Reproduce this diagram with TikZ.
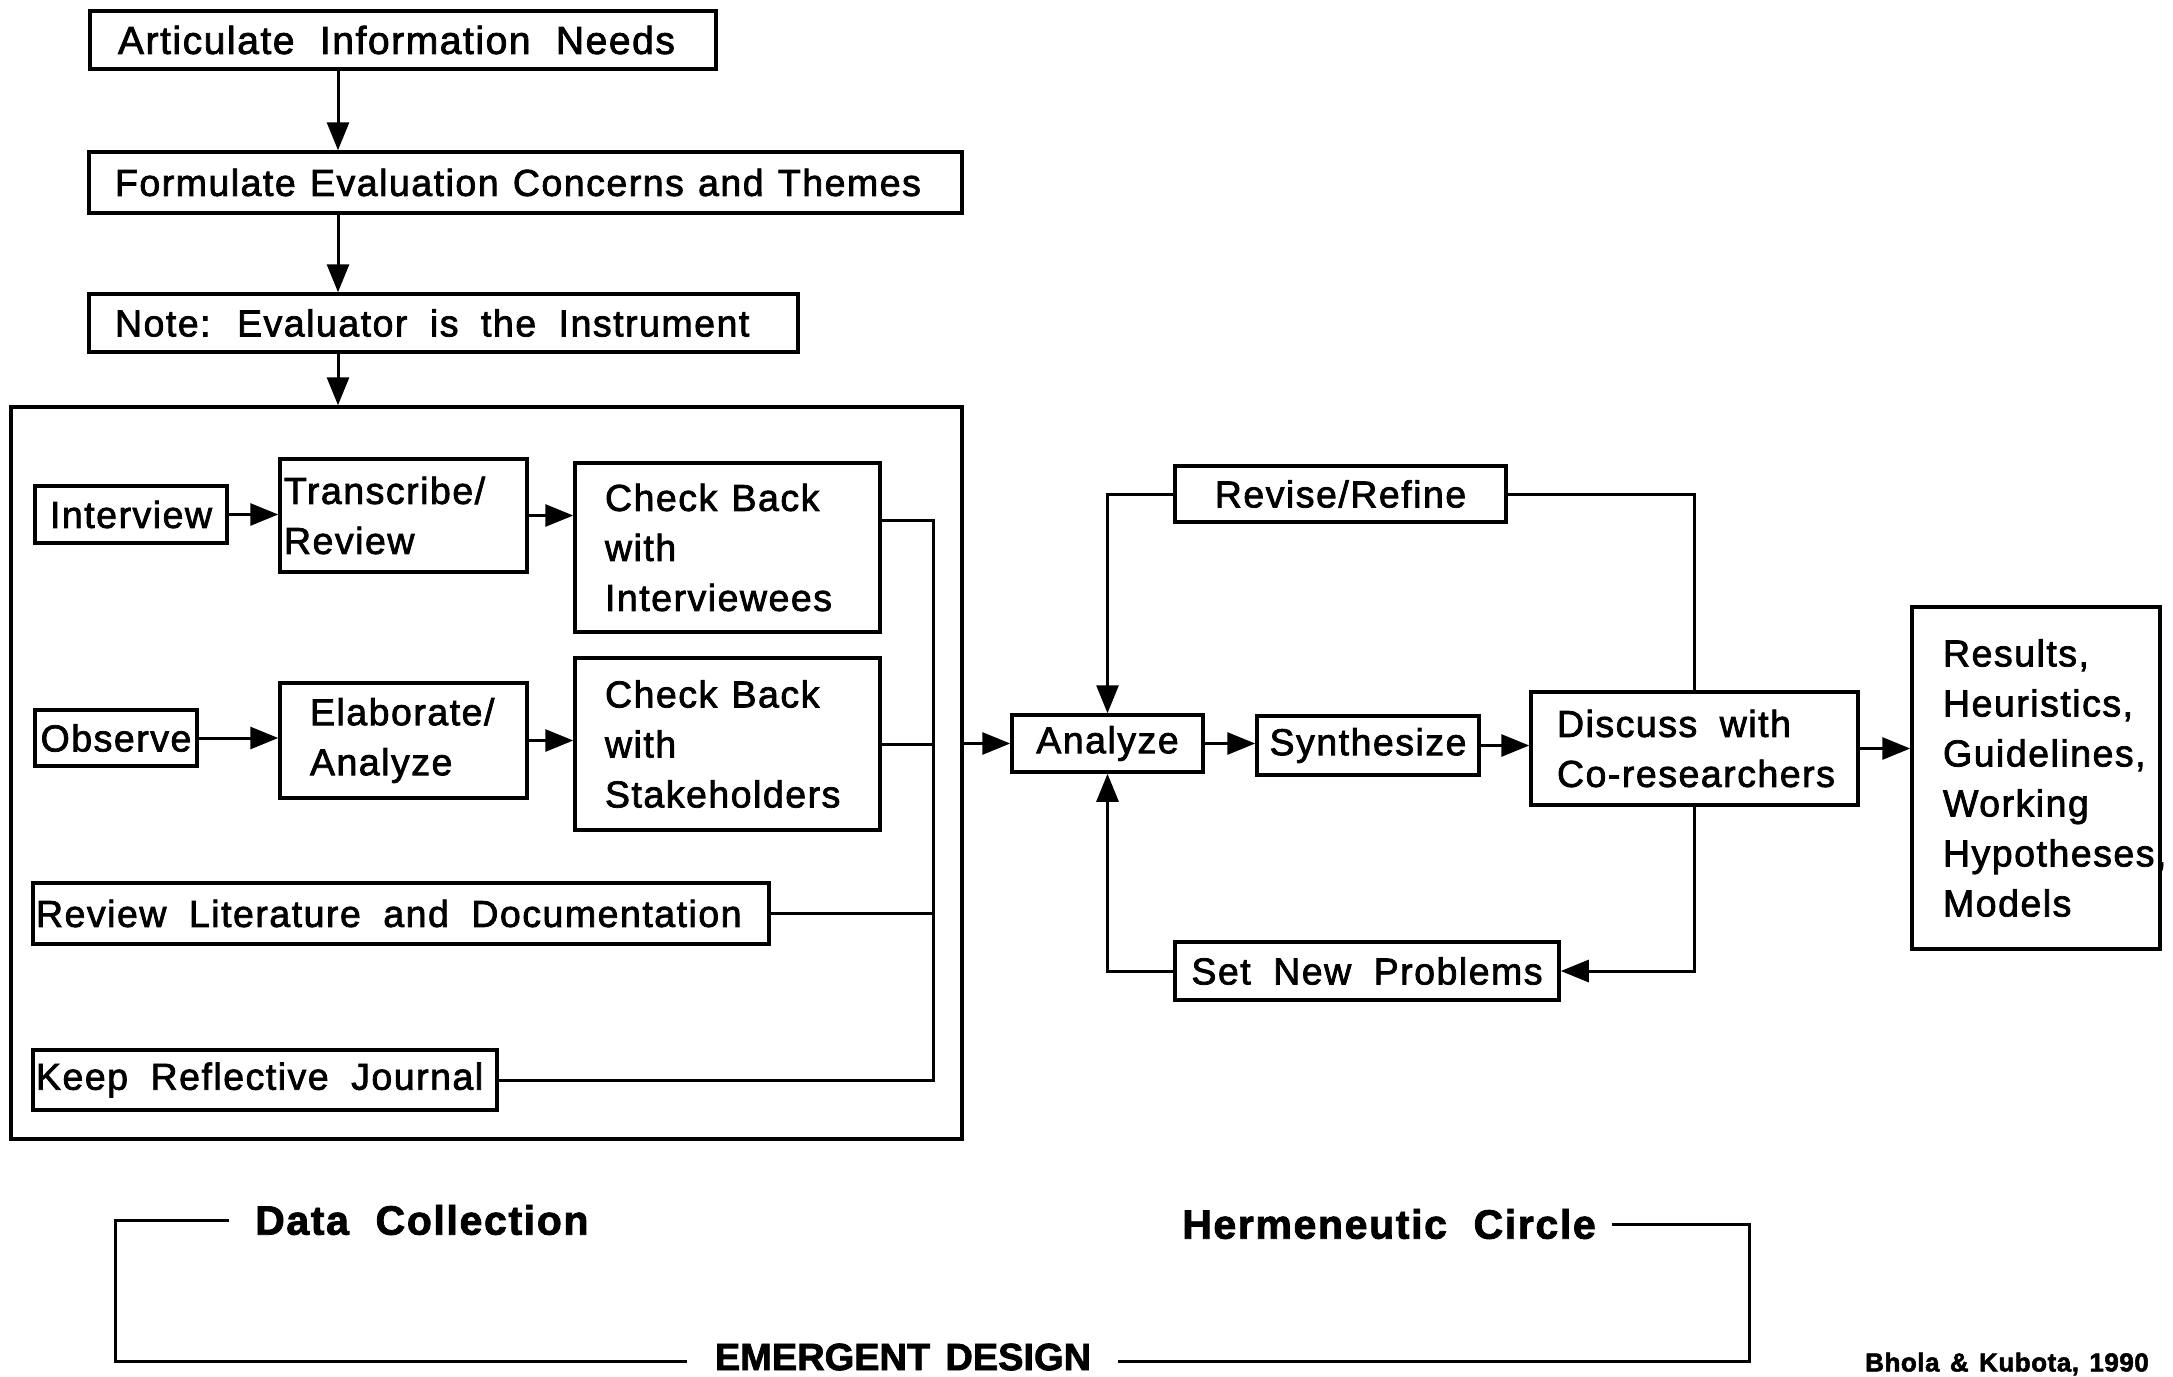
\documentclass[tikz,border=0pt]{standalone}
\usepackage{fontspec}
\setmainfont{Liberation Sans}[LetterSpace=4,FakeBold=2]
\usetikzlibrary{arrows.meta,calc}
\protected\def\myboxfont{\fontsize{37.5}{50}\selectfont\spaceskip=0.6em plus 0.1em minus 0.1em\relax}
\protected\def\mynarrowfont{\fontsize{37.5}{50}\selectfont\spaceskip=0.38em plus 0.1em minus 0.1em\relax}
\protected\def\myartfont{\fontsize{39}{50}\selectfont\spaceskip=0.65em plus 0.1em minus 0.1em\relax}
\protected\def\mylabfont{\bfseries\fontsize{41}{48}\selectfont\spaceskip=0.65em\relax}
\protected\def\myedfont{\bfseries\fontsize{38}{48}\selectfont\addfontfeatures{LetterSpace=0}\spaceskip=0.4em\relax}
\protected\def\mycitefont{\bfseries\fontsize{26}{30}\selectfont\addfontfeatures{LetterSpace=2}\spaceskip=0.4em\relax}
\begin{document}
\begin{tikzpicture}[x=1pt,y=-1pt,
  box/.style={draw, line width=3.5pt, inner ysep=0pt, font=\myboxfont},
  lbox/.style={box, align=flush left},
  cbox/.style={box, align=center, inner xsep=0pt},
  conn/.style={line width=3pt},
  arr/.style={conn, -{Triangle[length=28pt,width=22pt]}},
  lab/.style={inner sep=0pt, font=\mylabfont}
]
\useasboundingbox (0,0) rectangle (2173,1376);
% top column
\node[lbox, inner xsep=28pt, text width=570pt, minimum height=58pt, font=\myartfont] (art) at (403,40) {Articulate Information Needs};
\node[lbox, inner xsep=26pt, text width=821pt, minimum height=61pt, font=\mynarrowfont] (form) at (525.5,182.5) {Formulate Evaluation Concerns and Themes};
\node[lbox, inner xsep=26pt, text width=657pt, minimum height=58pt] (note) at (443.5,323) {Note: Evaluator is the Instrument};
\node[draw, line width=3.5pt, minimum width=951pt, minimum height=732pt, inner sep=0pt] (big) at (486.5,773) {};
\coordinate (ax) at (338,0);
\draw[arr] (art.south -| ax) -- (form.north -| ax);
\draw[arr] (form.south -| ax) -- (note.north -| ax);
\draw[arr] (note.south -| ax) -- (big.north -| ax);
% data collection
\node[cbox, minimum width=192pt, minimum height=57pt] (interview) at (131,514.5) {Interview};
\node[lbox, inner xsep=4pt, text width=239pt, minimum height=113pt] (transcribe) at (403.5,515.5) {Transcribe/\\Review};
\node[lbox, inner xsep=30pt, text width=245pt, minimum height=169pt, font=\mynarrowfont] (cbi) at (727.5,547.5) {Check Back\\with\\Interviewees};
\node[cbox, minimum width=162pt, minimum height=56pt] (observe) at (116,738) {Observe};
\node[lbox, inner xsep=30pt, text width=187pt, minimum height=115pt] (elab) at (403.5,740.5) {Elaborate/\\Analyze};
\node[lbox, inner xsep=30pt, text width=245pt, minimum height=172pt, font=\mynarrowfont] (cbs) at (727.5,744) {Check Back\\with\\Stakeholders};
\node[lbox, inner xsep=3pt, text width=730pt, minimum height=61pt] (revlit) at (401,913.5) {Review Literature and Documentation};
\node[lbox, inner xsep=3pt, text width=458pt, minimum height=60pt] (journal) at (265,1080) {Keep Reflective Journal};
\draw[arr] (interview.east) -- (interview.east -| transcribe.west);
\draw[arr] (transcribe.east) -- (transcribe.east -| cbi.west);
\draw[arr] (observe.east) -- (observe.east -| elab.west);
\draw[arr] (elab.east) -- (elab.east -| cbs.west);
\coordinate (cTop) at (933,520);
\draw[conn] (cbi.east |- cTop) -- (cTop) |- (journal.east);
\draw[conn] (cbs.east) -- (cbs.east -| cTop);
\draw[conn] (revlit.east) -- (revlit.east -| cTop);
% hermeneutic circle
\node[cbox, minimum width=191pt, minimum height=57pt] (analyze) at (1107.5,743.5) {Analyze};
\node[cbox, minimum width=222pt, minimum height=59pt] (synth) at (1368,745.5) {Synthesize};
\node[lbox, inner xsep=26pt, text width=275pt, minimum height=113pt] (discuss) at (1694.5,748.5) {Discuss with\\\mbox{Co-researchers}};
\node[lbox, inner xsep=31pt, text width=186pt, minimum height=342pt] (results) at (2036,778) {Results,\\Heuristics,\\Guidelines,\\Working\\Hypotheses,\\Models};
\node[cbox, minimum width=331pt, minimum height=56pt] (revise) at (1340.5,494) {Revise/Refine};
\node[cbox, minimum width=384pt, minimum height=58pt] (setnew) at (1367,971) {Set New Problems};
\draw[arr] (big.east |- analyze.west) -- (analyze.west);
\draw[arr] (analyze.east) -- (analyze.east -| synth.west);
\draw[arr] (synth.east) -- (synth.east -| discuss.west);
\draw[arr] (discuss.east) -- (discuss.east -| results.west);
\draw[conn] (discuss.north) |- (revise.east);
\draw[arr] (revise.west) -| (analyze.north);
\draw[arr] (discuss.south) |- (setnew.east);
\draw[arr] (setnew.west) -| (analyze.south);
% emergent design bracket
\node[lab, anchor=west] (dc) at (255,1220) {Data Collection};
\node[lab, anchor=east] (hc) at (1596,1224) {Hermeneutic Circle};
\node[lab, font=\myedfont, anchor=center] (ed) at (903,1357) {EMERGENT DESIGN};
\node[inner sep=0pt, anchor=east, font=\mycitefont] (cite) at (2149,1364) {Bhola \& Kubota, 1990};
\coordinate (bl) at (115,1361);
\coordinate (br) at (1749,1361);
\draw[conn] ([xshift=-26pt]dc.west) -| (bl) -- ([xshift=-28pt]ed.west |- bl);
\draw[conn] ([xshift=27pt]ed.east |- br) -- (br) |- ([xshift=16pt]hc.east);
\end{tikzpicture}
\end{document}
